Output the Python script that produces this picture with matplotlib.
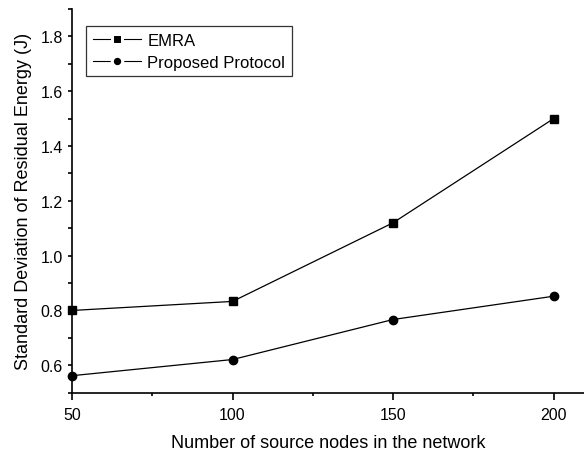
import numpy as np
import matplotlib.pyplot as plt
from matplotlib.lines import Line2D
from matplotlib.ticker import MultipleLocator

plt.rcParams['font.family'] = ['Liberation Sans', 'DejaVu Sans']

nodes = [50, 100, 150, 200]
emra = [0.80, 0.833, 1.12, 1.50]
proposed = [0.562, 0.621, 0.767, 0.852]
series_names = ['EMRA', 'Proposed Protocol']

fig = plt.figure(figsize=(5.84, 4.52), dpi=100)
ax = fig.add_axes([0.1233, 0.129, 0.877, 0.849])

ax.plot(nodes, emra, color='black', lw=0.9, marker='s', ms=5.5, clip_on=False)
ax.plot(nodes, proposed, color='black', lw=0.9, marker='o', ms=6, clip_on=False)

ax.set_xlim(50, 209.5)
ax.set_ylim(0.5, 1.9)
ax.xaxis.set_major_locator(MultipleLocator(50))
ax.xaxis.set_minor_locator(MultipleLocator(25))
ax.yaxis.set_major_locator(MultipleLocator(0.2))
ax.yaxis.set_minor_locator(MultipleLocator(0.1))
ax.yaxis.set_major_formatter(plt.FormatStrFormatter('%.1f'))

for s in ['top', 'right']:
    ax.spines[s].set_visible(False)
for s in ['left', 'bottom']:
    ax.spines[s].set_linewidth(1.2)
ax.tick_params(axis='x', which='major', direction='out', length=5, width=1.2, labelsize=11.5, pad=5)
ax.tick_params(axis='x', which='minor', direction='out', length=2.5, width=1.2)
ax.tick_params(axis='y', which='both', direction='out', length=3.2, width=1.2, labelsize=11.5, pad=3.5)

ax.set_xlabel('Number of source nodes in the network', fontsize=13, labelpad=9)
ax.set_ylabel('Standard Deviation of Residual Energy (J)', fontsize=13, labelpad=6)

# legend handles: marker with a small gap to the line on each side
handles = [
    Line2D([], [], color='black', lw=0.8, marker='s', ms=7, mfc='black', mec='white', mew=2.2),
    Line2D([], [], color='black', lw=0.8, marker='o', ms=7.5, mfc='black', mec='white', mew=2.2),
]
leg = ax.legend(handles, series_names, loc='upper left', bbox_to_anchor=(0.028, 0.955),
                frameon=True, fancybox=False, edgecolor='black', fontsize=12,
                handlelength=2.9, borderpad=0.4, labelspacing=0.4, handletextpad=0.35,
                borderaxespad=0)
leg.get_frame().set_linewidth(0.9)

plt.savefig('out.png', dpi=100)
